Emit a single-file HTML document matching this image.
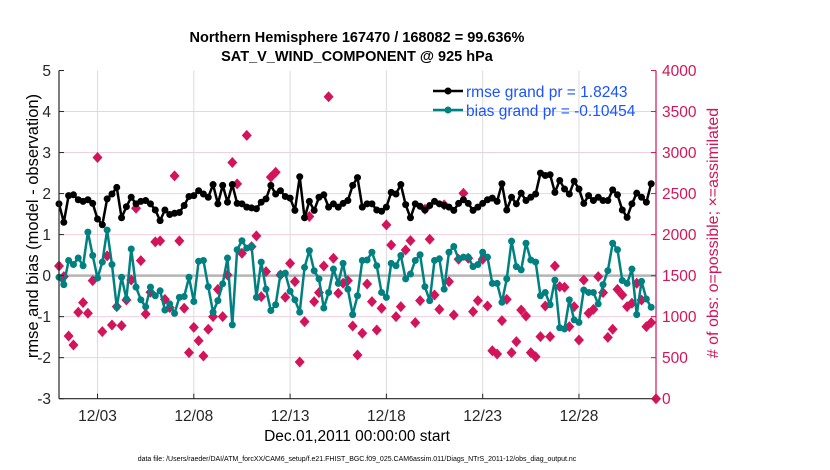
<!DOCTYPE html>
<html><head><meta charset="utf-8"><style>
body{margin:0;background:#fff;}
svg{display:block;font-family:"Liberation Sans",sans-serif;}
</style></head><body>
<svg id="chart" width="830" height="470">
<text x="357" y="42" text-anchor="middle" font-size="14.5" font-weight="bold">Northern Hemisphere 167470 / 168082 = 99.636%</text>
<text x="357" y="61" text-anchor="middle" font-size="14.5" font-weight="bold">SAT_V_WIND_COMPONENT @ 925 hPa</text>
<g id="grid"></g>
<g id="marks"></g>
<g id="axes"></g>
<text transform="translate(38,226) rotate(-90)" text-anchor="middle" font-size="16.5">rmse and bias (model - observation)</text>
<text transform="translate(718,233) rotate(-90)" text-anchor="middle" font-size="16" fill="#d4145a"># of obs: o=possible; ×=assimilated</text>
<text x="357" y="441" text-anchor="middle" font-size="15.5">Dec.01,2011 00:00:00 start</text>
<text x="357" y="461" text-anchor="middle" font-size="7">data file: /Users/raeder/DAI/ATM_forcXX/CAM6_setup/f.e21.FHIST_BGC.f09_025.CAM6assim.011/Diags_NTrS_2011-12/obs_diag_output.nc</text>
<g>
<line x1="433" y1="91" x2="463" y2="91" stroke="#000" stroke-width="2.5"/>
<circle cx="448" cy="91" r="3.5" fill="#000"/>
<text x="466" y="97" font-size="15.5" fill="#1a53ff">rmse grand pr = 1.8243</text>
<line x1="433" y1="110" x2="463" y2="110" stroke="#008080" stroke-width="2.5"/>
<circle cx="448" cy="110" r="3.5" fill="#008080"/>
<text x="466" y="116" font-size="15.5" fill="#1a53ff">bias grand pr = -0.10454</text>
</g>
</svg>
<script>
const rmse=[1.75,1.30,1.95,1.97,1.85,1.81,1.85,1.76,1.38,1.24,1.87,1.99,2.15,1.41,1.68,1.91,1.75,1.81,1.83,1.75,1.60,1.34,1.60,1.49,1.52,1.54,1.71,1.93,1.95,2.07,1.99,1.91,2.22,1.75,2.20,1.79,2.22,1.76,1.75,1.67,1.65,1.63,
1.79,1.87,2.20,1.99,2.07,1.93,1.89,1.59,2.41,1.41,1.81,1.59,1.91,1.97,1.67,1.75,1.67,1.76,1.83,2.20,2.39,1.67,1.75,1.75,1.60,1.57,1.67,2.03,1.99,2.22,1.73,1.41,1.75,1.69,1.60,1.71,1.81,1.75,1.71,1.67,1.59,1.76,1.85,
1.76,1.59,1.67,1.76,1.85,1.89,1.81,2.24,1.60,1.91,1.75,2.01,1.83,1.91,1.99,2.50,2.44,2.46,2.03,2.32,2.11,1.99,2.30,2.11,1.76,1.95,1.83,1.91,1.83,1.83,2.09,1.97,1.60,1.42,1.75,2.01,1.91,1.79,2.24,null];
const bias=[-0.04,-0.22,0.37,0.27,0.43,0.24,1.06,0.49,-0.06,0.33,1.11,0.27,-0.77,-0.04,-0.57,0.65,-0.28,-0.59,-0.76,-0.28,-0.49,-0.37,-0.84,-0.69,-0.92,-0.53,-0.51,-0.04,-0.63,0.35,0.37,-0.27,-0.89,-0.61,-0.20,0.43,-1.20,0.63,0.85,0.67,0.72,-0.53,
0.33,-0.33,-0.85,-0.71,0.04,0.06,-0.38,-0.59,-0.89,0.20,0.61,0.12,-0.08,-0.79,-0.41,0.16,-0.19,0.30,-0.33,-0.95,-0.49,0.37,0.38,0.57,0.24,-0.41,-0.53,0.30,0.24,0.49,-0.08,0.04,0.37,0.51,-0.27,-0.61,0.37,0.41,-0.33,0.57,0.71,0.41,0.45,
0.45,0.22,0.27,0.57,0.45,-0.19,-0.19,-0.65,-0.08,0.84,0.22,0.14,0.79,0.38,0.33,-0.49,-0.41,-0.71,-0.11,-1.27,-1.30,-0.59,-1.08,-1.14,-0.35,-0.41,-0.41,-0.69,-0.22,0.12,0.79,0.63,-0.12,-0.19,0.16,-0.95,-0.14,-0.57,-0.77,null];
const obsCount=[1618,1488,764,654,1053,1171,1041,1439,2940,817,1740,898,1122,890,1203,1447,2321,1683,1033,1297,1911,1923,1211,1110,2715,1923,1102,561,870,707,520,846,1000,1333,1000,1508,2878,2618,1772,3210,1854,1984,
1244,1549,2700,2760,1508,1236,1650,1427,447,939,2220,1183,1293,1618,3680,1711,1285,1407,1439,886,533,797,1398,1183,837,1102,2118,1874,1000,1122,1813,1927,927,1195,2309,1943,1264,1089,2362,1427,1020,1699,2504,
1711,1061,1195,1699,1130,585,545,951,1211,561,695,1081,1008,561,512,756,1130,756,1618,1366,1358,878,1122,715,1447,1041,1089,1488,1293,748,846,1333,1264,1122,1163,1407,1203,878,927,0];
const xTickDays=[2,7,12,17,22,27];
const xTickLabels=["12/03","12/08","12/13","12/18","12/23","12/28"];
const yLeftTicks=[-3,-2,-1,0,1,2,3,4,5];
const yRightTicks=[0,500,1000,1500,2000,2500,3000,3500,4000];
const stepDays=0.25;

const L=59,R=656,T=70.5,B=398.7;
const xs=d=>L+(d/31)*(R-L);
const yl=v=>B-(v+3)/8*(B-T);
const yr=v=>B-v/4000*(B-T);
const NS='http://www.w3.org/2000/svg';
function mk(tag,parent,attrs){const e=document.createElementNS(NS,tag);for(const k in attrs)e.setAttribute(k,attrs[k]);parent.appendChild(e);return e;}
const grid=document.getElementById('grid'),marks=document.getElementById('marks'),axes=document.getElementById('axes');

yLeftTicks.forEach(v=>{if(v>-3&&v<5&&v!==0){const g=mk('line',grid,{x1:L,x2:R,y1:yl(v),y2:yl(v),stroke:'#f2cfe0','stroke-width':1});

}});
xTickDays.forEach(d=>{const g=mk('line',grid,{x1:xs(d),x2:xs(d),y1:T,y2:B,stroke:'#dcdcdc','stroke-width':1});

});
const z=mk('line',grid,{x1:L,x2:R,y1:yl(0),y2:yl(0),stroke:'#b4b4b4','stroke-width':2.5});



obsCount.forEach((c,i)=>{if(c==null)return;const x=xs(i*stepDays),y=yr(c);
const p=mk('path',marks,{d:`M${x},${y-5.5}L${x+5},${y}L${x},${y+5.5}L${x-5},${y}Z`,fill:'#d4145a'});

});

function series(arr,color,name){
 let d='';arr.forEach((v,i)=>{if(v==null)return;d+=(d?'L':'M')+xs(i*stepDays)+','+yl(v);});
 const pl=mk('path',marks,{d:d,fill:'none',stroke:color,'stroke-width':2.5,'stroke-linejoin':'round'});
 
 
 arr.forEach((v,i)=>{if(v==null)return;const c=mk('circle',marks,{cx:xs(i*stepDays),cy:yl(v),r:3.5,fill:color});
 
 });
}
series(bias,'#008080','bias');
series(rmse,'#000000','rmse');

const ax1=mk('line',axes,{x1:L,x2:L,y1:T,y2:B,stroke:'#262626','stroke-width':1.2});


const ax2=mk('line',axes,{x1:L,x2:R,y1:B,y2:B,stroke:'#262626','stroke-width':1.2});


const ax3=mk('line',axes,{x1:R,x2:R,y1:T,y2:B,stroke:'#d4145a','stroke-width':1.2});


yLeftTicks.forEach(v=>{const y=yl(v);mk('line',axes,{x1:L,x2:L+5,y1:y,y2:y,stroke:'#262626'});
const t=mk('text',axes,{x:L-8,y:y+5.5,'text-anchor':'end','font-size':15.5,fill:'#262626'});t.textContent=v;

});
yRightTicks.forEach(v=>{const y=yr(v);mk('line',axes,{x1:R-5,x2:R,y1:y,y2:y,stroke:'#d4145a'});
const t=mk('text',axes,{x:R+6,y:y+5.5,'font-size':15.5,fill:'#d4145a'});t.textContent=v;

});
xTickDays.forEach((d,i)=>{const x=xs(d);mk('line',axes,{x1:x,x2:x,y1:B,y2:B-5,stroke:'#262626'});
const t=mk('text',axes,{x:x,y:421,'text-anchor':'middle','font-size':15.5,fill:'#262626'});t.textContent=xTickLabels[i];

});
</script>
</body></html>
